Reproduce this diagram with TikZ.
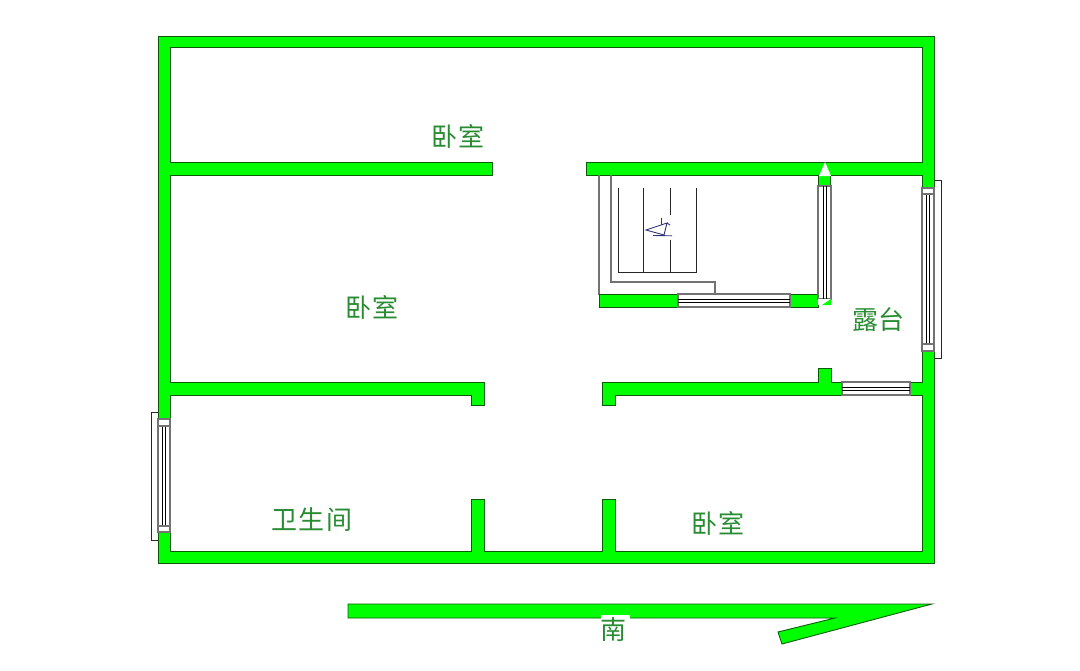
\documentclass[tikz,border=0pt]{standalone}
\usepackage{fontspec}
\newfontfamily\cjk{Noto Sans CJK SC}
\definecolor{wallgreen}{RGB}{0,255,0}
\definecolor{walledge}{RGB}{10,90,10}
\definecolor{labelgreen}{RGB}{40,140,50}
\definecolor{wingray}{RGB}{115,115,115}
\definecolor{symblue}{RGB}{50,50,120}
\tikzset{
  wall/.style={fill=wallgreen,draw=walledge,line width=.9pt,line join=miter},
  room/.style={fill=white,draw=walledge,line width=.9pt,line join=miter},
  winbox/.style={fill=white,draw=wingray,line width=1.3pt},
  winline/.style={draw=black,line width=.9pt},
  thinline/.style={draw=black!85,line width=.9pt},
  grayline/.style={draw=wingray,line width=1.2pt},
  symline/.style={draw=symblue,line width=.9pt},
  lbl/.style={text=labelgreen,font=\cjk\fontsize{26}{26}\selectfont,inner sep=0pt}
}
\begin{document}
\begin{tikzpicture}[x=1pt,y=-1pt]
\useasboundingbox (0,0) rectangle (1080,670);
% walls: outer block with the connected interior cut out of it
\draw[wall] (158,36) rectangle (934,563);
\draw[room] (170,47) -- (922,47) -- (922,162) -- (586,162) -- (586,175) -- (818,175) -- (818,186) -- (830,186) -- (830,175) -- (922,175)
  -- (922,382) -- (831,382) -- (831,368) -- (818,368) -- (818,382) -- (602,382) -- (602,405) -- (615,405) -- (615,395)
  -- (922,395) -- (922,551) -- (615,551) -- (615,499) -- (602,499) -- (602,551) -- (484,551) -- (484,499) -- (471,499) -- (471,551)
  -- (170,551) -- (170,395) -- (471,395) -- (471,405) -- (484,405) -- (484,382) -- (170,382) -- (170,175) -- (492,175) -- (492,162) -- (170,162) -- cycle;
% right window
\draw[thinline] (934,180) -- (941,180) -- (941,358) -- (934,358);
\draw[winbox] (922,188) rectangle (934,351);
\draw[winline] (926.5,194) -- (926.5,344) (929.5,194) -- (929.5,344);
\draw[winbox] (922,188) rectangle (934,194);
\draw[winbox] (922,344) rectangle (934,351);
% terrace bottom window
\draw[winbox] (842,382) rectangle (910,395);
\draw[winline] (842,387) -- (910,387) (842,390) -- (910,390);
% left window
\draw[thinline] (158,412) -- (151,412) -- (151,540) -- (158,540);
\draw[winbox] (158,419) rectangle (170,532);
\draw[winline] (162,426) -- (162,526) (165.5,426) -- (165.5,526);
\draw[winbox] (158,419) rectangle (170,426);
\draw[winbox] (158,526) rectangle (170,532);
% stair enclosure
\draw[grayline] (599,175) -- (599,295);
\draw[grayline] (611,175) -- (611,282) -- (715,282) -- (715,295);
\draw[thinline] (618,188) -- (618,272) -- (696,272) -- (696,188);
\draw[thinline] (643,188) -- (643,272);
\draw[thinline] (670,188) -- (670,215) (670,240) -- (670,272);
\draw[wall] (599,294) rectangle (678,307);
\draw[wall] (790,294) rectangle (818,307);
\draw[winbox] (678,294) rectangle (790,307);
\draw[winline] (678,299) -- (790,299) (678,302) -- (790,302);
% stair vertical window
\draw[winbox] (818,186) rectangle (831,299);
\draw[winline] (823,186) -- (823,299) (826,186) -- (826,299);
\draw[fill=white,draw=none] (825,162) -- (831,176) -- (819,176) -- cycle;
\fill[white] (818,299) rectangle (831,305);
\fill[wallgreen] (831,299) -- (831,305) -- (822,305) -- cycle;
% stair arrow symbol
\draw[symline] (646,230) -- (667,223) -- (664,235) -- cycle;
\draw[symline] (653,235.5) -- (672,235.8);
\draw[symline] (661.7,218) -- (661.7,225);
\draw[symline] (667,223) -- (670,225);
% compass arrow
\draw[wall] (348,604) -- (932,604) -- (782,644) -- (778,632) -- (835,618) -- (348,618) -- cycle;
\fill[white] (601,614.5) rectangle (630,619);
% labels
\node[lbl] (l1) at (458,136) {卧\hspace{2pt}室};
\node[lbl] (l2) at (372,307) {卧\hspace{2pt}室};
\node[lbl] (l3) at (718,523) {卧\hspace{2pt}室};
\node[lbl] (l4) at (312,520) {卫\hspace{1.5pt}生\hspace{1.5pt}间};
\node[lbl] (l5) at (878,320) {露台};
\node[lbl] (l6) at (613,630) {南};
\end{tikzpicture}
\end{document}
